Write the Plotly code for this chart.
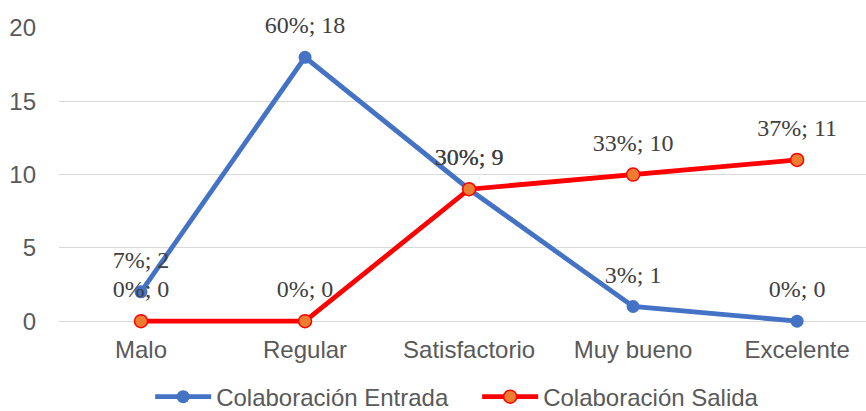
import plotly.graph_objects as go

categorias = ["Malo", "Regular", "Satisfactorio", "Muy bueno", "Excelente"]
entrada = [2, 18, 9, 1, 0]
entrada_pct = [7, 60, 30, 3, 0]
salida = [0, 0, 9, 10, 11]
salida_pct = [0, 0, 30, 33, 37]
y_ticks = [0, 5, 10, 15, 20]

label_font = dict(family="Liberation Serif, Times New Roman, serif", size=24, color="#404040")

fig = go.Figure()

fig.add_trace(go.Scatter(
    x=categorias,
    y=entrada,
    name="Colaboración Entrada",
    mode="lines+markers",
    line=dict(color="#4472C4", width=4.8),
    marker=dict(color="#4472C4", size=13),
    cliponaxis=False,
))

fig.add_trace(go.Scatter(
    x=categorias,
    y=salida,
    name="Colaboración Salida",
    mode="lines+markers",
    line=dict(color="#FF0000", width=4.8),
    marker=dict(color="#ED7D31", size=13, line=dict(color="#FF0000", width=1.5)),
    cliponaxis=False,
))

# etiquetas de datos: traza aparte con marcador invisible para separar el texto
for valores, pct in [(entrada, entrada_pct), (salida, salida_pct)]:
    fig.add_trace(go.Scatter(
        x=categorias,
        y=valores,
        customdata=pct,
        mode="markers+text",
        marker=dict(size=27, color="rgba(0,0,0,0)"),
        texttemplate="%{customdata}%; %{y}",
        textposition="top center",
        textfont=label_font,
        showlegend=False,
        hoverinfo="skip",
        cliponaxis=False,
    ))

fig.update_layout(
    width=866,
    height=411,
    margin=dict(l=59, r=0, t=28, b=84),
    paper_bgcolor="white",
    plot_bgcolor="white",
    font=dict(family="Liberation Sans, Arial, sans-serif", size=24, color="#595959"),
    showlegend=True,
    legend=dict(
        orientation="h",
        xref="container",
        x=0.551,
        xanchor="center",
        yref="container",
        y=0.034,
        yanchor="middle",
        font=dict(size=24, color="#595959"),
        itemwidth=56,
        entrywidth=256,
        entrywidthmode="pixels",
    ),
    xaxis=dict(
        type="category",
        range=[-0.5, 4.42],
        showgrid=False,
        showline=False,
        zeroline=False,
        ticks="",
        ticklabelstandoff=6,
    ),
    yaxis=dict(
        range=[-0.4, 20],
        tickvals=y_ticks,
        showgrid=True,
        gridcolor="#D9D9D9",
        gridwidth=1,
        zeroline=False,
        showline=False,
        ticks="",
        ticklabelstandoff=22,
    ),
)

fig.write_html(
    "out.html",
    config={"displayModeBar": False},
    post_script="document.body.style.margin='0';",
)
